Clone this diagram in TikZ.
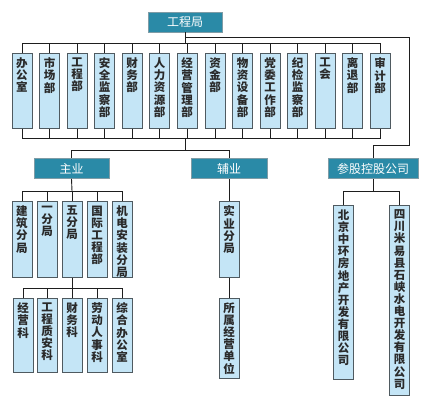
\documentclass[tikz,border=0pt]{standalone}
\usepackage{fontspec}
\setmainfont{Noto Sans CJK SC}
\usepackage{xcolor}
\usepackage{tikz}

\definecolor{headfill}{HTML}{2A8AA7}
\definecolor{headline}{HTML}{7F9CA6}
\definecolor{unitfill}{HTML}{C4E5F6}
\definecolor{unitline}{HTML}{4F5A60}
\definecolor{linkline}{HTML}{1E1E1E}
\definecolor{unittext}{HTML}{2A2A2A}

% column of characters, fixed height, text at top
\newcommand{\coltext}[2]{\parbox[t][#1][t]{20pt}{\centering\vspace*{4.5pt}#2}}

\begin{document}
\begin{tikzpicture}[x=1pt,y=-1pt]
        \tikzstyle{every node}+=[inner sep=0pt]
        \tikzstyle{head}=[draw=headline, fill=headfill, text=white, line width=0.8pt,
                minimum height=20pt, font=\fontsize{12}{13}\selectfont]
        \tikzstyle{unit}=[draw=unitline, fill=unitfill, text=unittext, line width=0.8pt,
                anchor=north, font=\fontsize{11.5}{12.1}\selectfont\bfseries]
        \tikzstyle{link}=[draw=linkline, line width=0.9pt]
        \useasboundingbox (0,0) rectangle (423,401);
        % top
        \node [head, minimum width=74pt] (gcj) at (185,22) {工程局};
        % departments
        \node [unit] (d1) at (22,53) {\coltext{75pt}{办\\公\\室}};
        \node [unit] (d2) at (49.5,53) {\coltext{75pt}{市\\场\\部}};
        \node [unit] (d3) at (77,53) {\coltext{75pt}{工\\程\\部}};
        \node [unit] (d4) at (104.5,53) {\coltext{75pt}{安\\全\\监\\察\\部}};
        \node [unit] (d5) at (132,53) {\coltext{75pt}{财\\务\\部}};
        \node [unit] (d6) at (159.5,53) {\coltext{75pt}{人\\力\\资\\源\\部}};
        \node [unit] (d7) at (187,53) {\coltext{75pt}{经\\营\\管\\理\\部}};
        \node [unit] (d8) at (215,53) {\coltext{75pt}{资\\金\\部}};
        \node [unit] (d9) at (242.5,53) {\coltext{75pt}{物\\资\\设\\备\\部}};
        \node [unit] (d10) at (270,53) {\coltext{75pt}{党\\委\\工\\作\\部}};
        \node [unit] (d11) at (297.5,53) {\coltext{75pt}{纪\\检\\监\\察\\部}};
        \node [unit] (d12) at (325,53) {\coltext{75pt}{工\\会}};
        \node [unit] (d13) at (352.5,53) {\coltext{75pt}{离\\退\\部}};
        \node [unit] (d14) at (380,53) {\coltext{75pt}{审\\计\\部}};
        % groups
        \node [head, minimum width=75pt] (zy) at (71.5,168.5) {主业};
        \node [head, minimum width=76pt] (fy) at (229,168.5) {辅业};
        \node [head, minimum width=90pt] (cg) at (373,168.5) {参股控股公司};
        % main branches
        \node [unit] (s1) at (22,201) {\coltext{76pt}{建\\筑\\分\\局}};
        \node [unit] (s2) at (47,201) {\coltext{76pt}{一\\分\\局}};
        \node [unit] (s3) at (72,201) {\coltext{76pt}{五\\分\\局}};
        \node [unit] (s4) at (97,201) {\coltext{76pt}{国\\际\\工\\程\\部}};
        \node [unit] (s5) at (122,201) {\coltext{76pt}{机\\电\\安\\装\\分\\局}};
        % sections
        \node [unit] (t1) at (23,298) {\coltext{74pt}{经\\营\\科}};
        \node [unit] (t2) at (47,298) {\coltext{74pt}{工\\程\\质\\安\\科}};
        \node [unit] (t3) at (72,298) {\coltext{74pt}{财\\务\\科}};
        \node [unit] (t4) at (97,298) {\coltext{74pt}{劳\\动\\人\\事\\科}};
        \node [unit] (t5) at (122,298) {\coltext{74pt}{综\\合\\办\\公\\室}};
        % side business
        \node [unit] (sy) at (229,201) {\coltext{76pt}{实\\业\\分\\局}};
        \node [unit] (ss) at (229,298) {\coltext{80pt}{所\\属\\经\\营\\单\\位}};
        % companies
        \node [unit] (c1) at (343.5,205) {\coltext{174pt}{北\\京\\中\\环\\房\\地\\产\\开\\发\\有\\限\\公\\司}};
        \node [unit] (c2) at (399.5,205) {\coltext{190pt}{四\\川\\米\\易\\县\\石\\峡\\水\\电\\开\\发\\有\\限\\公\\司}};
        % junctions
        \coordinate (busA) at (185,43);
        \coordinate (jA) at (185,37);
        \coordinate (rt) at (409,145);
        \coordinate (busB) at (185,138);
        \coordinate (busC) at (185,150);
        \coordinate (busD) at (72,191);
        \coordinate (busE) at (72,288);
        \coordinate (busF) at (373,191);
        % links
        \draw [link] (gcj.south) -- (busA);
        \foreach \i in {1,...,14} {
                \draw [link] (d\i.north) |- (busA);
                \draw [link] (d\i.south) |- (busB);
        }
        \draw [link] (jA) -| (rt) -| (cg.north);
        \draw [link] (busB) -- (busC);
        \draw [link] (busC) -| (zy.north);
        \draw [link] (busC) -| (fy.north);
        \draw [link] (zy.south) -- (busD);
        \foreach \i in {1,...,5} {
                \draw [link] (s\i.north) |- (busD);
                \draw [link] (t\i.north) |- (busE);
        }
        \draw [link] (s3.south) -- (busE);
        \draw [link] (fy.south) -- (sy.north);
        \draw [link] (sy.south) -- (ss.north);
        \draw [link] (cg.south) -- (busF);
        \draw [link] (c1.north) |- (busF);
        \draw [link] (c2.north) |- (busF);
\end{tikzpicture}
\end{document}
